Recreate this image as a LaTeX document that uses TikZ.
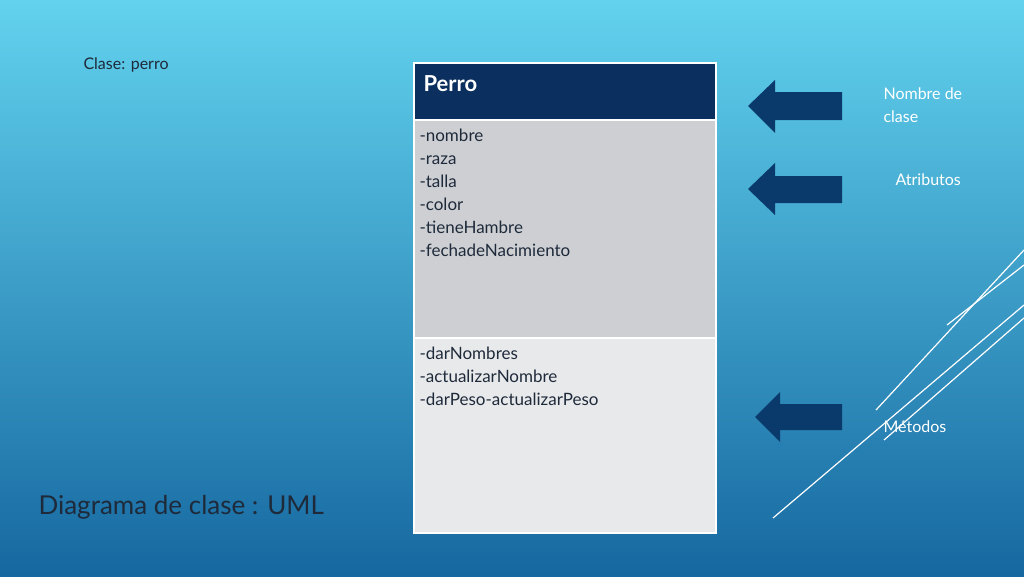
\documentclass[tikz,border=0pt]{standalone}
\usepackage{fontspec}
\setmainfont{Lato}
\definecolor{navy}{HTML}{0B2F5E}
\definecolor{arr}{HTML}{0A3A6B}
\definecolor{gA}{HTML}{CDCFD3}
\definecolor{gB}{HTML}{E8E9EB}
\definecolor{txt}{HTML}{1E2A3A}
\begin{document}
\begin{tikzpicture}[x=1pt,y=-1pt,
  body/.style={font=\fontsize{17}{23}\selectfont, text=txt, anchor=north west, align=left},
  lab/.style={font=\fontsize{16}{23}\selectfont, text=white, anchor=north west, align=left},
  arrowshape/.style={fill=arr},
  deco/.style={white, line width=1.2pt}]
\useasboundingbox (0,0) rectangle (1024,576);
\shade[top color=cyan!45!white!70!blue!100, bottom color=white] (0,0) rectangle (1024,1);
\shade[top color={rgb,255:red,98;green,210;blue,238}, bottom color={rgb,255:red,22;green,104;blue,160}] (0,0) rectangle (1024,576);
% decorative lines
\draw[deco] (773,518) -- (1024,305);
\draw[deco] (876,410) -- (1024,250);
\draw[deco] (947,325) -- (1024,265);
\draw[deco] (884,440) -- (1024,318);
% table
\fill[navy] (414,63) rectangle (716,120);
\fill[gA] (414,120) rectangle (716,338);
\fill[gB] (414,338) rectangle (716,533);
\draw[white, line width=1.5pt] (414,63) rectangle (716,533) (414,120) -- (716,120) (414,338) -- (716,338);
\node[anchor=west, text=white, font=\fontsize{22}{26}\selectfont\bfseries] (title) at (420,84) {Perro};
\node[body] (attrs) at (416,125) {-nombre\\-raza\\-talla\\-color\\-tieneHambre\\-fechadeNacimiento};
\node[body] (meths) at (416,343) {-darNombres\\-actualizarNombre\\-darPeso-actualizarPeso};
% arrows
\fill[arrowshape] (748,106) -- (775,80) -- (775,92) -- (842,92) -- (842,120) -- (775,120) -- (775,133) -- cycle;
\fill[arrowshape] (748,189) -- (775,163) -- (775,176) -- (842,176) -- (842,203) -- (775,203) -- (775,215) -- cycle;
\fill[arrowshape] (755,417) -- (780,392) -- (780,404) -- (842,404) -- (842,430) -- (780,430) -- (780,442) -- cycle;
% labels
\node[lab] (l1) at (880,84) {Nombre de\\clase};
\node[lab, anchor=west] (l2) at (892,180) {Atributos};
\node[lab, anchor=west] (l3) at (880,427) {Métodos};
\node[anchor=west, text=txt, font=\fontsize{16}{20}\selectfont] (clase) at (80,65) {Clase: perro};
\node[anchor=west, text=txt, font=\fontsize{26}{30}\selectfont] (diag) at (35,507) {Diagrama de clase : UML};
\end{tikzpicture}
\end{document}
